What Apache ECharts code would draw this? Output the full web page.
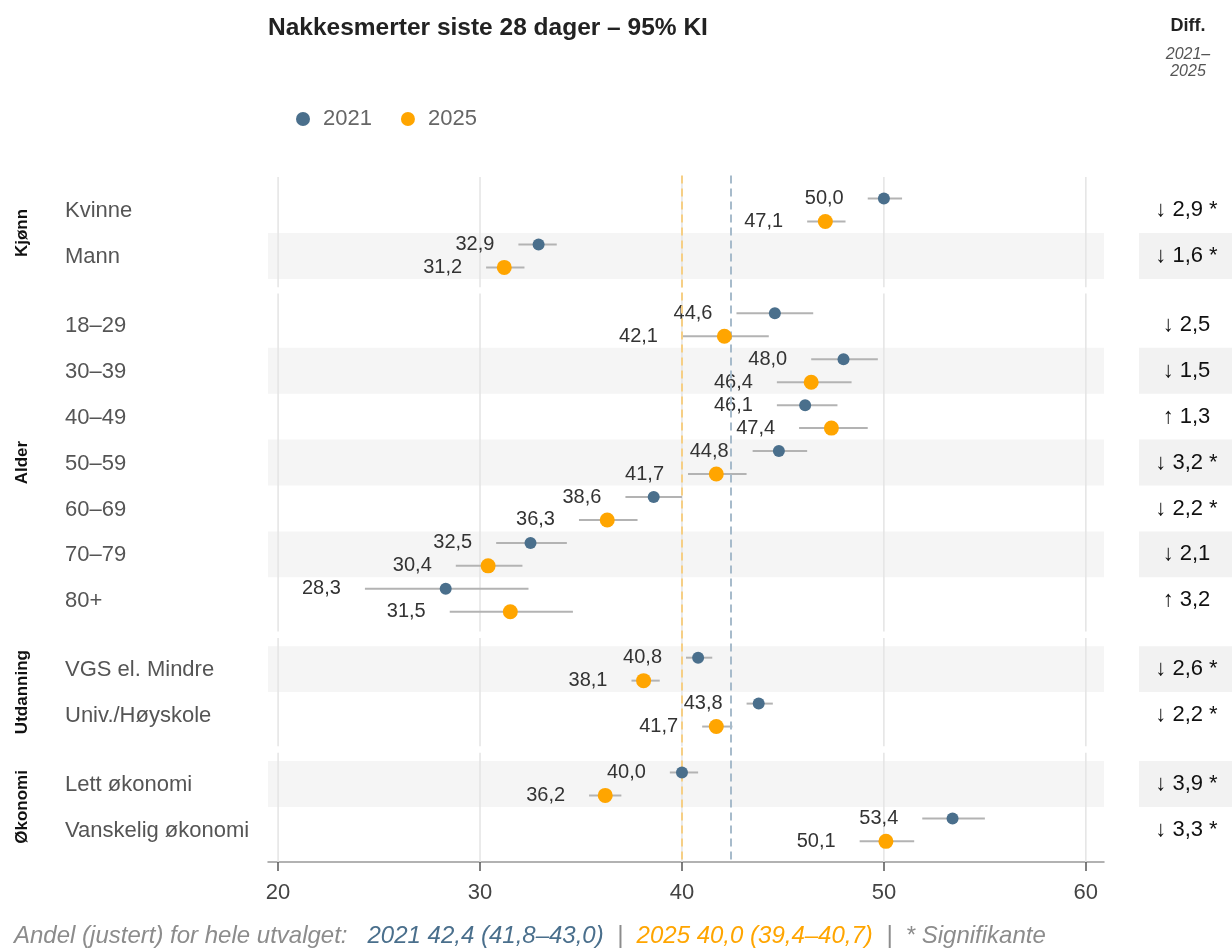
<!DOCTYPE html>
<html>
<head>
<meta charset="utf-8">
<script src="https://cdn.jsdelivr.net/npm/echarts@6/dist/echarts.min.js"></script>
<style>
  html, body { margin: 0; padding: 0; background: #fff; }
  #main { width: 1232px; height: 949px; }
</style>
</head>
<body>
<div id="main"></div>
<script>
// rader og grupper
const categories = ["Kvinne", "Mann", "18–29", "30–39", "40–49", "50–59", "60–69", "70–79", "80+",
  "VGS el. Mindre", "Univ./Høyskole", "Lett økonomi", "Vanskelig økonomi"];
const groupNames = ["Kjønn", "Alder", "Utdanning", "Økonomi"];
const groupSizes = [2, 7, 2, 2];

// andel med 95% KI
const val2021 = [50.0, 32.9, 44.6, 48.0, 46.1, 44.8, 38.6, 32.5, 28.3, 40.8, 43.8, 40.0, 53.4];
const lo2021  = [49.2, 31.9, 42.7, 46.4, 44.7, 43.5, 37.2, 30.8, 24.3, 40.2, 43.2, 39.4, 51.9];
const hi2021  = [50.9, 33.8, 46.5, 49.7, 47.7, 46.2, 40.0, 34.3, 32.4, 41.5, 44.5, 40.8, 55.0];
const val2025 = [47.1, 31.2, 42.1, 46.4, 47.4, 41.7, 36.3, 30.4, 31.5, 38.1, 41.7, 36.2, 50.1];
const lo2025  = [46.2, 30.3, 40.0, 44.7, 45.8, 40.3, 34.9, 28.8, 28.5, 37.5, 41.0, 35.4, 48.8];
const hi2025  = [48.1, 32.2, 44.3, 48.4, 49.2, 43.2, 37.8, 32.1, 34.6, 38.9, 42.5, 37.0, 51.5];

// differanse 2021-2025 og signifikans
const diffs  = [-2.9, -1.6, -2.5, -1.5, 1.3, -3.2, -2.2, -2.1, 3.2, -2.6, -2.2, -3.9, -3.3];
const signif = [1, 1, 0, 0, 0, 1, 1, 0, 0, 1, 1, 1, 1];

// hele utvalget: [andel, lav, høy]
const overall2021 = [42.4, 41.8, 43.0];
const overall2025 = [40.0, 39.4, 40.7];

const xTicks = [20, 30, 40, 50, 60];

const FONT = '"Liberation Sans", Arial, Helvetica, sans-serif';
const C2021 = "#4a6f8c";
const C2025 = "#ffa500";
const fmt = v => v.toFixed(1).replace(".", ",");

// y-posisjoner: 1 per rad, halv rad ekstra mellom grupper
const pos = [];
const groupCenters = [];
const groupBounds = [];
let p = 0;
groupSizes.forEach((n, gi) => {
  if (gi > 0) p += 0.5;
  const first = p;
  for (let i = 0; i < n; i++) { pos.push(p); p++; }
  groupCenters.push([(first + p - 1) / 2, gi]);
  groupBounds.push([first, p - 1]);
});

const yMin = -0.75, yMax = 14.2;

// segmenter for vertikale gridlinjer
const segs = [];
groupBounds.forEach((b, gi) => {
  const s = gi === 0 ? yMin + 0.03 : (groupBounds[gi - 1][1] + b[0]) / 2 + 0.07;
  const e = gi === groupBounds.length - 1 ? yMax : (b[1] + groupBounds[gi + 1][0]) / 2 - 0.07;
  xTicks.forEach(t => segs.push([t, s, e]));
});

const myChart = echarts.init(document.getElementById("main"));

function ciSeries(name, lo, hi, val, off) {
  return {
    type: "custom",
    name: name + "ci",
    z: 4,
    clip: false,
    silent: true,
    encode: { x: [0, 1], y: 2 },
    data: categories.map((c, i) => [lo[i], hi[i], pos[i] + off, val[i]]),
    renderItem: function (params, api) {
      const a = api.coord([api.value(0), api.value(2)]);
      const b = api.coord([api.value(1), api.value(2)]);
      return {
        type: "group",
        children: [
          { type: "line", shape: { x1: a[0], y1: a[1], x2: b[0], y2: b[1] },
            style: { stroke: "#b3b3b3", lineWidth: 2 } },
          { type: "text", x: a[0] - 24, y: a[1],
            style: { text: fmt(api.value(3)), fill: "#333", fontSize: 20, fontFamily: FONT,
              align: "right", verticalAlign: "middle" } }
        ]
      };
    }
  };
}

myChart.setOption({
  animation: false,
  title: {
    text: "Nakkesmerter siste 28 dager – 95% KI",
    left: 268, top: 16, padding: 0,
    textStyle: { fontSize: 24.5, fontWeight: "bold", color: "#222", fontFamily: FONT }
  },
  legend: {
    data: ["2021", "2025"],
    left: 291, top: 103,
    icon: "circle",
    itemWidth: 30, itemHeight: 14, itemGap: 29,
    textStyle: { fontSize: 22, color: "#666", fontFamily: FONT }
  },
  grid: { left: 268, right: 128, top: 175.6, bottom: 87 },
  xAxis: {
    type: "value",
    min: 19.5, max: 60.9,
    axisLine: { show: true, onZero: false, lineStyle: { color: "#999", width: 1.5 } },
    axisTick: { show: true, length: 9, customValues: xTicks, lineStyle: { color: "#555", width: 1.5 } },
    axisLabel: { customValues: xTicks, fontSize: 22, color: "#444", margin: 20, fontFamily: FONT },
    splitLine: { show: false }
  },
  yAxis: { type: "value", min: yMin, max: yMax, inverse: true, show: false },
  graphic: [
    { type: "text", x: 1188, y: 26,
      style: { text: "Diff.", fontSize: 18, fontWeight: "bold", fill: "#222", fontFamily: FONT,
        align: "center", verticalAlign: "middle" } },
    { type: "text", x: 1188, y: 55,
      style: { text: "2021–", fontSize: 16, fontStyle: "italic", fill: "#555", fontFamily: FONT,
        align: "center", verticalAlign: "middle" } },
    { type: "text", x: 1188, y: 72,
      style: { text: "2025", fontSize: 16, fontStyle: "italic", fill: "#555", fontFamily: FONT,
        align: "center", verticalAlign: "middle" } },
    { type: "text", x: 14, y: 936,
      style: {
        text: "{g|Andel (justert) for hele utvalget:}   {b|2021 " + fmt(overall2021[0]) + " (" +
          fmt(overall2021[1]) + "–" + fmt(overall2021[2]) + ")}  {g||}  {o|2025 " + fmt(overall2025[0]) +
          " (" + fmt(overall2025[1]) + "–" + fmt(overall2025[2]) + ")}  {g||  * Signifikante}",
        verticalAlign: "middle",
        fontSize: 24, fontStyle: "italic", fontFamily: FONT,
        rich: {
          g: { fill: "#8c8c8c", fontSize: 24, fontStyle: "italic", fontFamily: FONT },
          b: { fill: C2021, fontSize: 24, fontStyle: "italic", fontFamily: FONT },
          o: { fill: C2025, fontSize: 24, fontStyle: "italic", fontFamily: FONT }
        }
      } }
  ],
  series: [
    // annenhver rad skyggelagt + diff-boks
    {
      type: "custom", z: 1, silent: true, clip: false,
      data: categories.map((c, i) => [pos[i], i % 2]),
      renderItem: function (params, api) {
        if (api.value(1) !== 1) return;
        const cs = params.coordSys;
        const y0 = api.coord([30, api.value(0) - 0.5])[1];
        const y1 = api.coord([30, api.value(0) + 0.5])[1];
        const dx = cs.x + cs.width + 35;
        return {
          type: "group",
          children: [
            { type: "rect", shape: { x: cs.x, y: y0, width: cs.width, height: y1 - y0 }, style: { fill: "#f5f5f5" } },
            { type: "rect", shape: { x: dx, y: y0, width: api.getWidth() - dx, height: y1 - y0 }, style: { fill: "#f2f2f2" } }
          ]
        };
      }
    },
    // vertikale gridlinjer per gruppe
    {
      type: "custom", z: 2, silent: true, clip: false,
      data: segs,
      renderItem: function (params, api) {
        const a = api.coord([api.value(0), api.value(1)]);
        const b = api.coord([api.value(0), api.value(2)]);
        return { type: "line", shape: { x1: a[0], y1: a[1], x2: b[0], y2: b[1] },
          style: { stroke: "#e4e4e4", lineWidth: 1.5 } };
      }
    },
    // kategorinavn
    {
      type: "custom", z: 3, silent: true, clip: false,
      data: categories.map((c, i) => [pos[i], i]),
      renderItem: function (params, api) {
        const y = api.coord([30, api.value(0)])[1];
        return { type: "text", x: 65, y: y + 1,
          style: { text: categories[api.value(1)], fill: "#555", fontSize: 22, fontFamily: FONT, verticalAlign: "middle" } };
      }
    },
    // gruppenavn
    {
      type: "custom", z: 3, silent: true, clip: false,
      data: groupCenters,
      renderItem: function (params, api) {
        const y = api.coord([30, api.value(0)])[1];
        return { type: "text", x: 22, y: y, rotation: Math.PI / 2,
          style: { text: groupNames[api.value(1)], fill: "#111", fontSize: 17, fontWeight: "bold",
            fontFamily: FONT, align: "center", verticalAlign: "middle" } };
      }
    },
    // diff-kolonne
    {
      type: "custom", z: 3, silent: true, clip: false,
      data: categories.map((c, i) => [pos[i], i]),
      renderItem: function (params, api) {
        const cs = params.coordSys;
        const i = api.value(1);
        const dx = cs.x + cs.width + 35;
        const y = api.coord([30, api.value(0)])[1];
        const t = (diffs[i] < 0 ? "↓ " : "↑ ") + fmt(Math.abs(diffs[i])) + (signif[i] ? " *" : "");
        return { type: "text", x: (dx + api.getWidth()) / 2 + 1, y: y,
          style: { text: t, fill: "#111", fontSize: 22, fontFamily: FONT, align: "center", verticalAlign: "middle" } };
      }
    },
    ciSeries("2021", lo2021, hi2021, val2021, -0.25),
    ciSeries("2025", lo2025, hi2025, val2025, 0.25),
    {
      name: "2021", type: "scatter", z: 5,
      symbolSize: 12,
      itemStyle: { color: C2021, opacity: 1 },
      data: val2021.map((v, i) => [v, pos[i] - 0.25]),
      markLine: {
        silent: true, symbol: "none", label: { show: false },
        data: [
          { xAxis: overall2025[0], lineStyle: { color: "#f6cf85", type: [8, 5], width: 2 } },
          { xAxis: overall2021[0], lineStyle: { color: "#a7bbcb", type: [8, 5], width: 2 } }
        ]
      }
    },
    {
      name: "2025", type: "scatter", z: 6,
      symbolSize: 15,
      itemStyle: { color: C2025, opacity: 1 },
      data: val2025.map((v, i) => [v, pos[i] + 0.25])
    }
  ]
});
</script>
</body>
</html>
